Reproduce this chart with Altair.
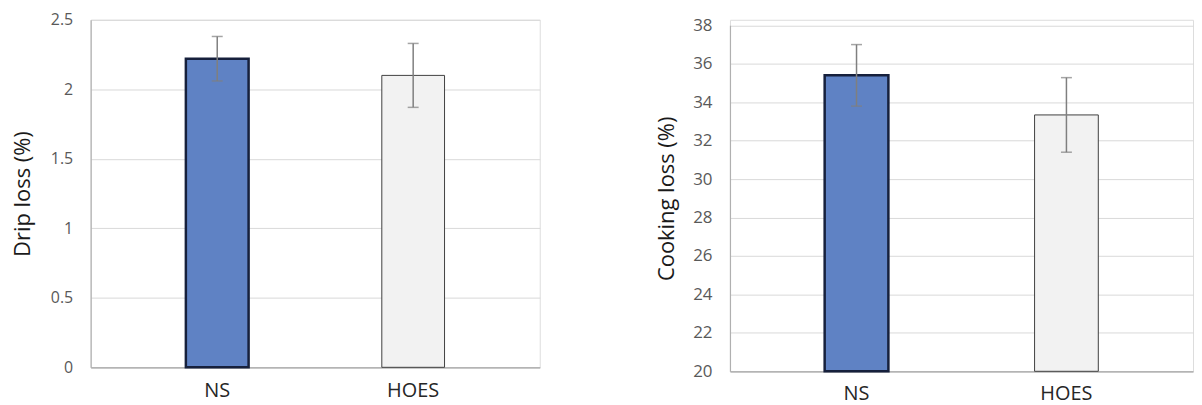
import altair as alt
import pandas as pd

categories = ["NS", "HOES"]
drip_mean = [2.22, 2.10]
drip_sd = [0.16, 0.23]
cook_mean = [35.4, 33.34]
cook_sd = [1.6, 1.94]

drip_ticks = [0, 0.5, 1, 1.5, 2, 2.5]
cook_ticks = [20, 22, 24, 26, 28, 30, 32, 34, 36, 38]

FONT = "Open Sans"
fills = ["#5f82c4", "#f2f2f2"]
strokes = ["#16203c", "#404040"]
stroke_widths = [2.5, 1.0]

drip = pd.DataFrame({"cat": categories, "mean": drip_mean, "sd": drip_sd})
drip["lo"] = drip["mean"] - drip["sd"]
drip["hi"] = drip["mean"] + drip["sd"]
cook = pd.DataFrame({"cat": categories, "mean": cook_mean, "sd": cook_sd})
cook["lo"] = cook["mean"] - cook["sd"]
cook["hi"] = cook["mean"] + cook["sd"]


def panel(df, title, dom, ticks, base, width, height, yrange, pad_outer, bar_w,
          xlab_pad, ylab_size, title_pad):
    xaxis = alt.Axis(
        labelAngle=0, labelFont=FONT, labelFontSize=20, labelColor="#262626",
        labelPadding=xlab_pad, ticks=False, domainColor="#a6a6a6", domainWidth=1.2,
        grid=False, title=None,
    )
    xscale = alt.Scale(paddingInner=0, paddingOuter=pad_outer)
    if yrange is not None:
        yscale = alt.Scale(domain=dom, nice=False, zero=False, range=yrange)
    else:
        yscale = alt.Scale(domain=dom, nice=False, zero=False)
    yaxis = alt.Axis(
        values=ticks, format="~g", labelFont=FONT, labelFontSize=ylab_size,
        labelColor="#595959", labelPadding=18, ticks=False, labelOverlap=False,
        domainColor="#b0b0b0", domainWidth=1.2, gridColor="#d9d9d9",
        gridWidth=1, titleFont=FONT, titleFontSize=22, titleFontWeight="normal",
        titleColor="#1a1a1a", titlePadding=title_pad, title=title,
    )

    def X():
        return alt.X("cat:N", sort=categories, scale=xscale, axis=xaxis)

    def Y(field):
        return alt.Y(field, scale=yscale, axis=yaxis)

    bars = alt.Chart().mark_bar(width=bar_w).encode(
        x=X(),
        y=Y("mean:Q"),
        y2=alt.datum(base),
        fill=alt.Fill("cat:N", scale=alt.Scale(domain=categories, range=fills), legend=None),
        stroke=alt.Stroke("cat:N", scale=alt.Scale(domain=categories, range=strokes), legend=None),
        strokeWidth=alt.StrokeWidth("cat:N", scale=alt.Scale(domain=categories, range=stroke_widths), legend=None),
    )
    rule = alt.Chart().mark_rule(color="#7f7f7f", strokeWidth=1.5).encode(
        x=X(), y=Y("lo:Q"), y2="hi:Q",
    )
    cap_hi = alt.Chart().mark_tick(color="#7f7f7f", thickness=1.5, size=11).encode(
        x=X(), y=Y("hi:Q")
    )
    cap_lo = alt.Chart().mark_tick(color="#7f7f7f", thickness=1.5, size=11).encode(
        x=X(), y=Y("lo:Q")
    )
    return alt.layer(bars, rule, cap_hi, cap_lo, data=df).properties(width=width, height=height)


left = panel(drip, "Drip loss (%)", [0, 2.5], drip_ticks, 0, 451, 349, None, 0.146, 63, 13, 16, 16)
right = panel(cook, "Cooking loss (%)", [20, 38], cook_ticks, 20, 465, 353, [353, 5.6], 0.103, 64, 12, 17, 14)

chart = alt.hconcat(left, right, spacing=191, bounds="flush").properties(
    padding={"left": 3, "top": 2, "right": 0, "bottom": 0}
).configure_view(stroke=None).configure(background="white")

chart.save("out.html", embed_options={"renderer": "svg", "actions": False})
